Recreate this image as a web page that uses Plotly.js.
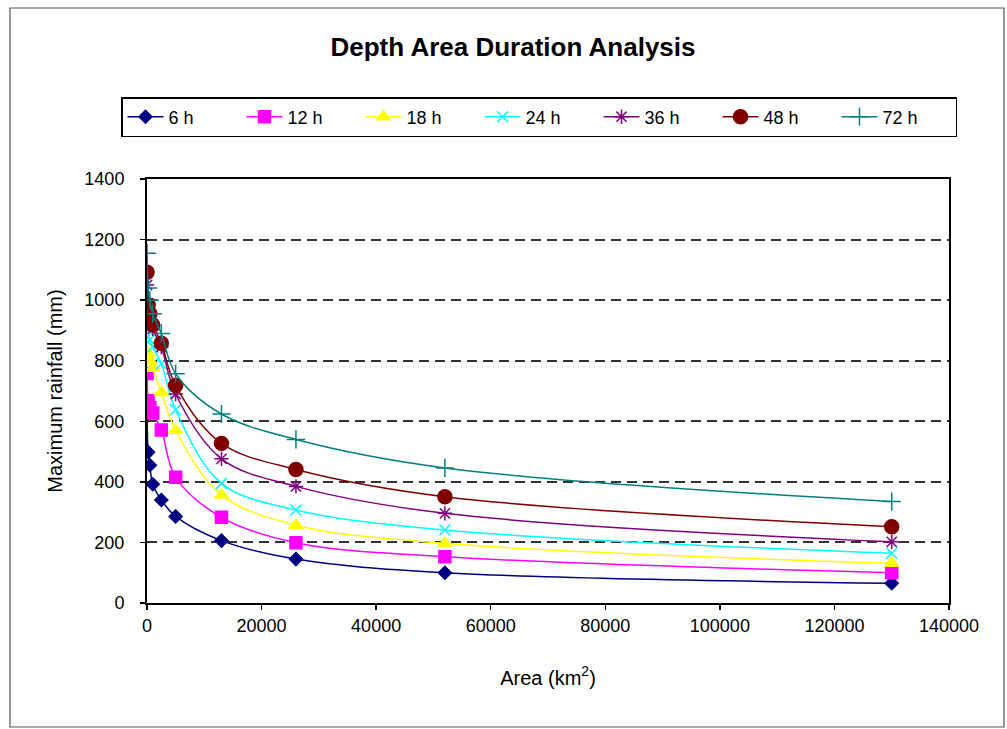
<!DOCTYPE html>
<html>
<head>
<meta charset="utf-8">
<script src="https://cdn.plot.ly/plotly-3.0.1.min.js"></script>
<style>
html,body{margin:0;padding:0;background:#fff;}
#chart{width:1007px;height:729px;}
</style>
</head>
<body>
<div id="chart"></div>
<script>
// Area (km2)
const areas = [10, 200, 500, 1000, 2500, 5000, 13000, 26000, 52000, 130000];
// Maximum rainfall (mm) per duration
const h6  = [625, 498, 455, 392, 340, 286, 206, 145, 100, 65];
const h12 = [758, 668, 645, 627, 571, 415, 283, 199, 153, 100];
const h18 = [912, 824, 800, 775, 695, 570, 357, 257, 197, 131];
const h24 = [968, 900, 870, 845, 790, 638, 395, 307, 241, 164];
const h36 = [1050, 990, 950, 905, 845, 690, 476, 385, 296, 202];
const h48 = [1092, 984, 955, 918, 858, 718, 527, 441, 351, 252];
const h72 = [1155, 1040, 1000, 955, 890, 757, 624, 540, 446, 335];
const seriesNames = ['6 h', '12 h', '18 h', '24 h', '36 h', '48 h', '72 h'];

const seriesData = [h6, h12, h18, h24, h36, h48, h72];
const colors = ['#000080', '#FF00FF', '#FFFF00', '#00FFFF', '#800080', '#800000', '#008080'];
const symbols = ['diamond', 'square', 'triangle-up', 'x-thin-open', 'asterisk-open', 'circle', 'cross-thin-open'];
const sizes = [10, 12, 12, 11, 12, 14, 13];

const traces = seriesData.map((ys, i) => ({
  type: 'scatter',
  mode: 'lines+markers',
  name: seriesNames[i],
  x: areas,
  y: ys,
  line: {color: colors[i], width: 1.5, shape: 'spline', smoothing: 1},
  marker: {color: colors[i], symbol: symbols[i], size: sizes[i],
           line: {color: colors[i], width: 1.5}}
}));

const L = 147, R = 949, T = 179, B = 603;
const W = R - L, H = B - T;
const px = v => (v - L) / W;
const py = v => (B - v) / H;

const FONT = 'Liberation Sans, Arial, sans-serif';

const layout = {
  width: 1007, height: 729,
  margin: {l: L, r: 1007 - R, t: T, b: 729 - B},
  paper_bgcolor: '#fff', plot_bgcolor: '#fff',
  font: {family: FONT, size: 18, color: '#000'},
  title: {text: '<b>Depth Area Duration Analysis</b>', x: px(513), xanchor: 'center', xref: 'paper',
          y: 0.935, yanchor: 'middle',
          font: {size: 26, family: FONT, color: '#000'}},
  showlegend: true,
  legend: {orientation: 'h', x: px(121), y: py(97), xanchor: 'left', yanchor: 'top',
           bordercolor: '#000', borderwidth: 1.5, bgcolor: '#fff',
           font: {size: 18}, entrywidth: 68, entrywidthmode: 'pixels', itemwidth: 36},
  xaxis: {range: [0, 140000], dtick: 20000, tick0: 0, tickformat: 'd',
          showgrid: false, zeroline: false, showline: true, mirror: true,
          linecolor: '#000', linewidth: 2, ticks: 'outside', ticklen: 5, tickcolor: '#000', tickwidth: 1.5,
          tickfont: {size: 18},
          title: {text: 'Area (km<sup>2</sup>)', standoff: 36, font: {size: 20}},
          automargin: false},
  yaxis: {range: [0, 1400], dtick: 200, tick0: 0, tickformat: 'd',
          showgrid: true, gridcolor: '#333', griddash: '10px,6px', gridwidth: 2,
          zeroline: false, showline: true, mirror: true,
          linecolor: '#000', linewidth: 2, ticks: 'outside', ticklen: 5, tickcolor: '#000', tickwidth: 1.5,
          tickfont: {size: 18}, ticklabelstandoff: 12,
          title: {text: 'Maximum rainfall (mm)', standoff: 16, font: {size: 20}},
          automargin: false},
  shapes: [{type: 'rect', xref: 'paper', yref: 'paper',
            x0: px(10), x1: px(1004), y0: py(727), y1: py(8),
            line: {color: '#555', width: 1.2}, layer: 'below'}]
};

Plotly.newPlot('chart', traces, layout, {displayModeBar: false, staticPlot: true});
</script>
</body>
</html>
